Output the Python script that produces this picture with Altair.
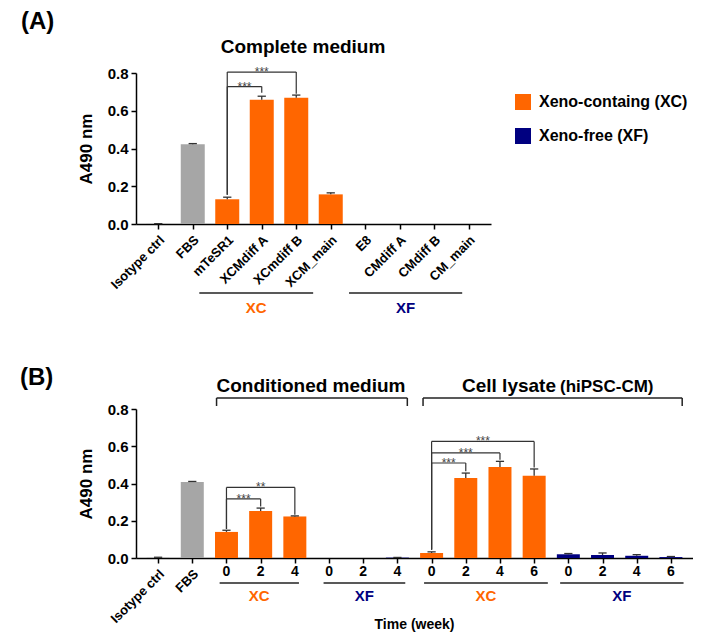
import altair as alt
import pandas as pd

FONT = "Liberation Sans"
ORANGE = "#FF6600"
NAVY = "#000080"
GRAY = "#A6A6A6"
XC_NAME = "Xeno-containg (XC)"
XF_NAME = "Xeno-free (XF)"
CTRL_NAME = "Control"
SERIES = {"XC": XC_NAME, "XF": XF_NAME, "ctrl": CTRL_NAME}

# ---------------- Panel A: complete medium ----------------
cats_a = ["Isotype ctrl", "FBS", "mTeSR1", "XCMdiff A", "XCmdiff B", "XCM_main",
          "E8", "CMdiff A", "CMdiff B", "CM_main"]
vals_a = [0.001, 0.423, 0.131, 0.658, 0.669, 0.157, 0.0, 0.0, 0.0, 0.0]
errs_a = [0.001, 0.003, 0.011, 0.019, 0.014, 0.008, 0.0, 0.0, 0.0, 0.0]
grp_a = ["ctrl", "ctrl", "XC", "XC", "XC", "XC", "XF", "XF", "XF", "XF"]

sig_a_from = [2, 2]
sig_a_to = [3, 4]
sig_a_y = [0.728, 0.805]
sig_a_lab = ["***", "***"]
sig_a_from_bottom = [0.155, 0.155]
sig_a_to_bottom = [0.695, 0.69]

ul_a_lab = ["XC", "XF"]
ul_a_start = [1.19, 5.53]
ul_a_end = [4.49, 8.81]

# ---------------- Panel B: conditioned medium / cell lysate ----------------
cats_b = ["Isotype ctrl", "FBS", "0", "2", "4", "0", "2", "4",
          "0", "2", "4", "6", "0", "2", "4", "6"]
vals_b = [0.002, 0.408, 0.140, 0.252, 0.223, 0.0, 0.0, 0.002,
          0.027, 0.430, 0.489, 0.442, 0.020, 0.016, 0.012, 0.005]
errs_b = [0.002, 0.003, 0.009, 0.016, 0.003, 0.0, 0.0, 0.001,
          0.006, 0.026, 0.030, 0.036, 0.004, 0.011, 0.006, 0.003]
grp_b = ["ctrl", "ctrl", "XC", "XC", "XC", "XF", "XF", "XF",
         "XC", "XC", "XC", "XC", "XF", "XF", "XF", "XF"]

sig_b_from = [2, 2, 8, 8, 8]
sig_b_to = [3, 4, 9, 10, 11]
sig_b_y = [0.317, 0.379, 0.51, 0.564, 0.626]
sig_b_lab = ["***", "**", "***", "***", "***"]
sig_b_from_bottom = [0.156, 0.156, 0.045, 0.045, 0.045]
sig_b_to_bottom = [0.277, 0.232, 0.466, 0.528, 0.486]

ul_b_lab = ["XC", "XF", "XC", "XF"]
ul_b_start = [1.80, 4.84, 7.78, 11.76]
ul_b_end = [4.12, 7.23, 11.40, 15.37]

sec_b_start = [1.71, 7.75]
sec_b_end = [7.29, 15.33]


def make_df(cats, vals, errs, grps):
    df = pd.DataFrame({"idx": list(range(len(cats))), "label": cats, "value": vals,
                       "err": errs, "grp": grps})
    df["series"] = df["grp"].map(SERIES)
    df["hi"] = df["value"] + df["err"]
    df["rot"] = ~df["label"].str.isdigit()
    return df


def make_sig(f, t, y, fb, tb, lab):
    d = pd.DataFrame({"f": f, "t": t, "y": y, "fb": fb, "tb": tb, "lab": lab})
    d["mid"] = (d["f"] + d["t"]) / 2
    return d


def make_ul(lab, s, e):
    d = pd.DataFrame({"lab": lab, "s": s, "e": e})
    d["mid"] = (d["s"] + d["e"]) / 2
    return d


cscale = alt.Scale(domain=[XC_NAME, XF_NAME, CTRL_NAME], range=[ORANGE, NAVY, GRAY])
Y_AXIS = alt.Axis(values=[0, 0.2, 0.4, 0.6, 0.8], format=".1f",
                  title="A490 nm", titlePadding=12, labelPadding=3)


def one_text(txt, x, y, size, align="center", color="black", weight="bold"):
    return alt.Chart(pd.DataFrame({"t": [txt]})).mark_text(
        align=align, baseline="alphabetic", fontSize=size, fontWeight=weight,
        font=FONT, color=color).encode(x=alt.value(x), y=alt.value(y), text="t:N")


def panel(df, sig, ul, bar_size, legend, ul_y, ul_lab_y, rot_y, num_y):
    n = len(df)
    xs = alt.Scale(domain=[-0.5, n - 0.5], nice=False, zero=False)
    ys = alt.Scale(domain=[0, 0.8], nice=False, zero=True)
    xa = alt.Axis(values=list(range(n)), labels=False, title=None)

    def X(f):
        return alt.X(f, scale=xs, axis=xa, title=None)

    def Y(f):
        return alt.Y(f, scale=ys, axis=Y_AXIS, title="A490 nm")

    base = alt.Chart(df)
    bars = base.mark_bar(size=bar_size).encode(
        x=X("idx:Q"), y=Y("value:Q"),
        color=alt.Color("series:N", scale=cscale, legend=legend),
    )
    eb = base.transform_filter("datum.err > 0")
    err_line = eb.mark_rule(color="#333333", strokeWidth=1.3).encode(
        x=X("idx:Q"), y=Y("value:Q"), y2="hi:Q")
    err_cap = eb.transform_calculate(c1="datum.idx - 0.12", c2="datum.idx + 0.12").mark_rule(
        color="#333333", strokeWidth=1.3).encode(x=X("c1:Q"), x2="c2:Q", y=Y("hi:Q"))

    sb = alt.Chart(sig)
    sig_h = sb.mark_rule(color="#333333", strokeWidth=1.2).encode(
        x=X("f:Q"), x2="t:Q", y=Y("y:Q"))
    sig_l = sb.mark_rule(color="#333333", strokeWidth=1.2).encode(
        x=X("f:Q"), y=Y("y:Q"), y2="fb:Q")
    sig_r = sb.mark_rule(color="#333333", strokeWidth=1.2).encode(
        x=X("t:Q"), y=Y("y:Q"), y2="tb:Q")
    sig_t = sb.mark_text(fontSize=12, color="#444444", font=FONT, baseline="alphabetic",
                         dy=4).encode(x=X("mid:Q"), y=Y("y:Q"), text="lab:N")

    rot = base.transform_filter("datum.rot").transform_calculate(lx="datum.idx + 0.12").mark_text(
        angle=315, align="right", baseline="middle", fontSize=13, fontWeight="bold",
        font=FONT, color="black").encode(x=X("lx:Q"), y=alt.value(rot_y), text="label:N")
    num = base.transform_filter("!datum.rot").mark_text(
        align="center", baseline="alphabetic", fontSize=14, fontWeight="bold",
        font=FONT, color="black").encode(x=X("idx:Q"), y=alt.value(num_y), text="label:N")

    ub = alt.Chart(ul)
    ul_rule = ub.mark_rule(color="#222222", strokeWidth=1.5).encode(
        x=X("s:Q"), x2="e:Q", y=alt.value(ul_y))
    ul_xc = ub.transform_filter("datum.lab == 'XC'").mark_text(
        fontSize=15, fontWeight="bold", font=FONT, color=ORANGE, baseline="alphabetic").encode(
        x=X("mid:Q"), y=alt.value(ul_lab_y), text="lab:N")
    ul_xf = ub.transform_filter("datum.lab == 'XF'").mark_text(
        fontSize=15, fontWeight="bold", font=FONT, color=NAVY, baseline="alphabetic").encode(
        x=X("mid:Q"), y=alt.value(ul_lab_y), text="lab:N")

    layers = [bars, err_line, err_cap, sig_h, sig_l, sig_r, sig_t, rot, num,
              ul_rule, ul_xc, ul_xf]
    return layers, X


# Panel A
df_a = make_df(cats_a, vals_a, errs_a, grp_a)
sig_a = make_sig(sig_a_from, sig_a_to, sig_a_y, sig_a_from_bottom, sig_a_to_bottom, sig_a_lab)
ul_a = make_ul(ul_a_lab, ul_a_start, ul_a_end)
legend_a = alt.Legend(values=[XC_NAME, XF_NAME], orient="none", legendX=379, legendY=21,
                      title=None, symbolType="square", symbolSize=256, symbolStrokeWidth=0,
                      labelFontSize=16, labelFontWeight="bold", labelFont=FONT,
                      labelColor="black", rowPadding=18, labelOffset=8, padding=0)
layers_a, _ = panel(df_a, sig_a, ul_a, 24, legend_a,
                    ul_y=220, ul_lab_y=240, rot_y=165, num_y=166)
layers_a += [one_text("(A)", -115, -44, 24, align="left"),
             one_text("Complete medium", 167, -20, 19)]
chart_a = alt.layer(*layers_a).properties(width=355, height=151)

# Panel B
df_b = make_df(cats_b, vals_b, errs_b, grp_b)
sig_b = make_sig(sig_b_from, sig_b_to, sig_b_y, sig_b_from_bottom, sig_b_to_bottom, sig_b_lab)
ul_b = make_ul(ul_b_lab, ul_b_start, ul_b_end)
layers_b, XB = panel(df_b, sig_b, ul_b, 23, None,
                     ul_y=174, ul_lab_y=192, rot_y=163, num_y=167)
sec = pd.DataFrame({"s": sec_b_start, "e": sec_b_end})
sb = alt.Chart(sec)
sec_h = sb.mark_rule(color="#222222", strokeWidth=1.5).encode(
    x=XB("s:Q"), x2="e:Q", y=alt.value(-11))
sec_l = sb.mark_rule(color="#222222", strokeWidth=1.5).encode(
    x=XB("s:Q"), y=alt.value(-11), y2=alt.value(-3))
sec_r = sb.mark_rule(color="#222222", strokeWidth=1.5).encode(
    x=XB("e:Q"), y=alt.value(-11), y2=alt.value(-3))
layers_b += [sec_h, sec_l, sec_r,
             one_text("(B)", -116, -24, 24, align="left"),
             one_text("Conditioned medium", 175, -17, 19),
             one_text("Cell lysate", 326, -17, 19, align="left"),
             one_text("(hiPSC-CM)", 424, -17, 17, align="left"),
             one_text("Time (week)", 278.5, 220, 14)]
chart_b = alt.layer(*layers_b).properties(width=557, height=149)

chart = alt.vconcat(chart_a, chart_b, spacing=185, bounds="flush").resolve_scale(
    color="independent", x="independent", y="independent"
).properties(
    padding={"left": 12, "top": 2, "right": 0, "bottom": 0}
).configure_view(stroke=None).configure_axis(
    grid=False, domainColor="black", domainWidth=1.5, tickColor="black", tickWidth=1.5,
    tickSize=5, labelFont=FONT, labelFontWeight="bold", labelFontSize=15, labelColor="black",
    titleFont=FONT, titleFontWeight="bold", titleFontSize=17, titleColor="black"
)

chart.save("out.html", embed_options={"renderer": "svg", "actions": False})
